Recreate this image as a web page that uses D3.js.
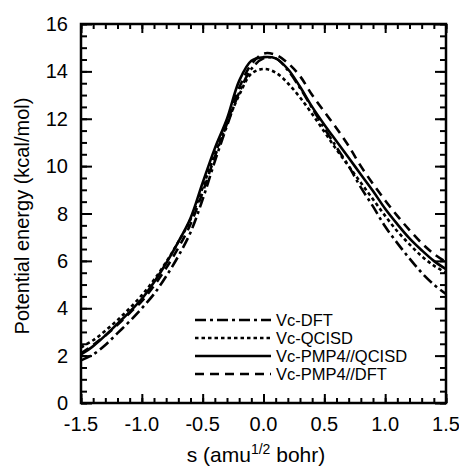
<!DOCTYPE html>
<html>
<head>
<meta charset="utf-8">
<script src="https://cdn.jsdelivr.net/npm/d3@7"></script>
<style>
  body { margin: 0; background: #fff; }
  svg text { font-family: "Liberation Sans", Arial, Helvetica, sans-serif; fill: #000; }
</style>
</head>
<body>
<svg id="chart" width="459" height="469"></svg>
<script>
// reaction coordinate s (amu^1/2 bohr)
var sValues = [-1.5, -1.4, -1.3, -1.2, -1.1, -1.0, -0.9, -0.8, -0.7, -0.6, -0.5, -0.4, -0.3, -0.2, -0.1,
               0.0, 0.1, 0.2, 0.3, 0.4, 0.5, 0.6, 0.7, 0.8, 0.9, 1.0, 1.1, 1.2, 1.3, 1.4, 1.5];

// potential energy (kcal/mol) for each curve
var vcDFT       = [1.8, 2.05, 2.45, 2.95, 3.45, 4.0, 4.6, 5.35, 6.2, 7.2, 8.6, 10.2, 11.7, 13.1, 14.1,
                   14.55, 14.55, 14.05, 13.3, 12.45, 11.6, 10.8, 10.0, 9.1, 8.3, 7.45, 6.75, 6.1, 5.5, 5.0, 4.6];
var vcQCISD     = [2.35, 2.65, 3.05, 3.5, 4.0, 4.55, 5.2, 5.95, 6.8, 7.75, 9.1, 10.5, 11.8, 13.0, 13.9,
                   14.1, 13.95, 13.5, 12.9, 12.2, 11.45, 10.7, 10.0, 9.3, 8.6, 7.9, 7.25, 6.7, 6.2, 5.8, 5.5];
var vcPMP4QCISD = [2.05, 2.4, 2.85, 3.35, 3.85, 4.4, 5.1, 5.9, 6.8, 7.8, 9.3, 10.75, 12.0, 13.6, 14.45,
                   14.6, 14.55, 14.1, 13.35, 12.5, 11.75, 11.05, 10.35, 9.65, 8.95, 8.2, 7.55, 6.95, 6.45, 6.0, 5.65];
var vcPMP4DFT   = [2.1, 2.45, 2.85, 3.3, 3.8, 4.3, 4.95, 5.7, 6.55, 7.55, 8.9, 10.4, 11.8, 13.3, 14.3,
                   14.75, 14.7, 14.35, 13.8, 13.0, 12.3, 11.6, 10.85, 10.0, 9.25, 8.55, 7.9, 7.3, 6.75, 6.3, 5.95];

var seriesNames = ["Vc-DFT", "Vc-QCISD", "Vc-PMP4//QCISD", "Vc-PMP4//DFT"];
var seriesDash  = ["11,4,3,4", "3.5,3", null, "9,6"];

var xTickValues = [-1.5, -1.0, -0.5, 0.0, 0.5, 1.0, 1.5];
var xTickLabels = ["-1.5", "-1.0", "-0.5", "0.0", "0.5", "1.0", "1.5"];
var yTickValues = [0, 2, 4, 6, 8, 10, 12, 14, 16];
var yTickLabels = ["0", "2", "4", "6", "8", "10", "12", "14", "16"];

var svg = d3.select("#chart");
var pLeft = 81, pRight = 446, pTop = 24, pBottom = 403;

var x = d3.scaleLinear().domain([-1.5, 1.5]).range([pLeft, pRight]);
var y = d3.scaleLinear().domain([0, 16]).range([pBottom, pTop]);

// minor ticks
var xMinor = d3.range(-15, 16).map(function(d) { return d / 10; });
var yMinor = d3.range(0, 33).map(function(d) { return d / 2; });

function tickLines(g) {
  g.select(".domain").remove();
  g.selectAll("line").attr("stroke", "#000").attr("stroke-width", 2);
  g.selectAll("text").remove();
}

// bottom & top
svg.append("g").attr("transform", "translate(0," + pBottom + ")")
   .call(d3.axisBottom(x).tickValues(xMinor).tickSize(-5)).call(tickLines);
svg.append("g").attr("transform", "translate(0," + pBottom + ")")
   .call(d3.axisBottom(x).tickValues(xTickValues).tickSize(-9)).call(tickLines);
svg.append("g").attr("transform", "translate(0," + pTop + ")")
   .call(d3.axisTop(x).tickValues(xMinor).tickSize(-5)).call(tickLines);
svg.append("g").attr("transform", "translate(0," + pTop + ")")
   .call(d3.axisTop(x).tickValues(xTickValues).tickSize(-9)).call(tickLines);
// left & right
svg.append("g").attr("transform", "translate(" + pLeft + ",0)")
   .call(d3.axisLeft(y).tickValues(yMinor).tickSize(-6)).call(tickLines);
svg.append("g").attr("transform", "translate(" + pLeft + ",0)")
   .call(d3.axisLeft(y).tickValues(yTickValues).tickSize(-11)).call(tickLines);
svg.append("g").attr("transform", "translate(" + pRight + ",0)")
   .call(d3.axisRight(y).tickValues(yMinor).tickSize(-6)).call(tickLines);
svg.append("g").attr("transform", "translate(" + pRight + ",0)")
   .call(d3.axisRight(y).tickValues(yTickValues).tickSize(-11)).call(tickLines);

// frame
svg.append("rect")
   .attr("x", pLeft).attr("y", pTop)
   .attr("width", pRight - pLeft).attr("height", pBottom - pTop)
   .attr("fill", "none").attr("stroke", "#000").attr("stroke-width", 2.5);

// tick labels
svg.selectAll(".xlab").data(xTickValues).enter().append("text")
   .attr("x", function(d) { return x(d); })
   .attr("y", 431)
   .attr("text-anchor", "middle")
   .style("font-size", "20px")
   .text(function(d, i) { return xTickLabels[i]; });

svg.selectAll(".ylab").data(yTickValues).enter().append("text")
   .attr("x", 68)
   .attr("y", function(d) { return y(d) + 7; })
   .attr("text-anchor", "end")
   .style("font-size", "20px")
   .text(function(d, i) { return yTickLabels[i]; });

// axis titles
var xt = svg.append("text")
   .attr("x", 256).attr("y", 462)
   .attr("text-anchor", "middle")
   .style("font-size", "21px");
xt.append("tspan").text("s (amu");
xt.append("tspan").attr("dy", -8).style("font-size", "14px").text("1/2");
xt.append("tspan").attr("dy", 8).text(" bohr)");

svg.append("text")
   .attr("transform", "translate(29,216) rotate(-90)")
   .attr("text-anchor", "middle")
   .style("font-size", "20px")
   .text("Potential energy (kcal/mol)");

// curves
var allSeries = [vcDFT, vcQCISD, vcPMP4QCISD, vcPMP4DFT];
var line = d3.line()
   .x(function(d, i) { return x(sValues[i]); })
   .y(function(d) { return y(d); })
   .curve(d3.curveCatmullRom.alpha(0.5));

svg.selectAll(".curve").data(allSeries).enter().append("path")
   .attr("d", line)
   .attr("fill", "none")
   .attr("stroke", "#000")
   .attr("stroke-width", 2.6)
   .attr("stroke-dasharray", function(d, i) { return seriesDash[i]; });

// legend
var legendY = [320, 338, 356, 374];
var lg = svg.selectAll(".leg").data(seriesNames).enter().append("g");
lg.append("line")
  .attr("x1", 195).attr("x2", 271)
  .attr("y1", function(d, i) { return legendY[i]; })
  .attr("y2", function(d, i) { return legendY[i]; })
  .attr("stroke", "#000").attr("stroke-width", 2.6)
  .attr("stroke-dasharray", function(d, i) { return seriesDash[i]; });
lg.append("text")
  .attr("x", 276)
  .attr("y", function(d, i) { return legendY[i] + 6; })
  .style("font-size", "16.5px")
  .text(function(d) { return d; });
</script>
</body>
</html>
